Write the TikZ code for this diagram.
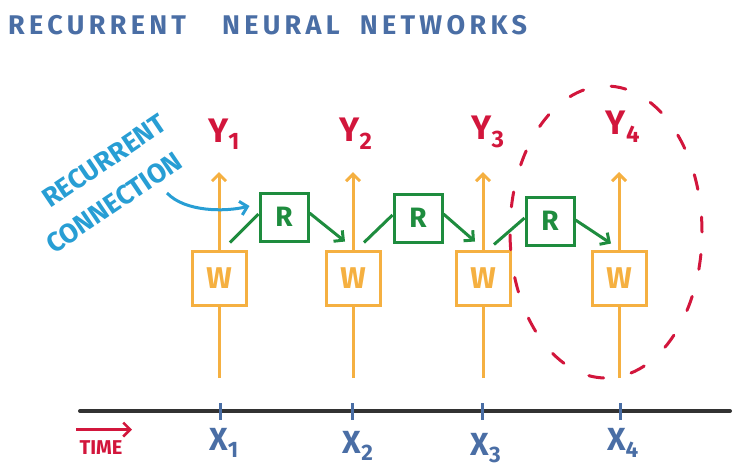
\documentclass[tikz,border=0pt]{standalone}
\usepackage{fontspec}
\setmainfont{Fira Sans}
\usetikzlibrary{arrows.meta,calc}

\definecolor{feedorange}{RGB}{245,176,65}
\definecolor{recgreen}{RGB}{30,140,62}
\definecolor{outred}{RGB}{210,22,60}
\definecolor{inblue}{RGB}{74,110,165}
\definecolor{notecyan}{RGB}{40,158,212}
\definecolor{axisgray}{RGB}{50,50,50}

\tikzset{
  feed/.style = {feedorange, line width = 3pt},
  wbox/.style = {draw = feedorange, line width = 3pt, minimum size = 54pt, inner sep = 0pt,
                 text = feedorange, font = \fontsize{30}{32}\selectfont\bfseries},
  rbox/.style = {draw = recgreen, line width = 3pt, minimum size = 48pt, inner sep = 0pt,
                 text = recgreen, font = \fontsize{28}{30}\selectfont\bfseries},
  link/.style = {recgreen, line width = 3pt},
  barb/.style = {-{Straight Barb[length = 7pt, width = 14pt]}},
  ylab/.style = {text = outred, font = \fontsize{34}{36}\selectfont\bfseries},
  xlab/.style = {text = inblue, font = \fontsize{32}{34}\selectfont\bfseries},
  tickmark/.style = {inblue, line width = 3pt},
  axis/.style = {axisgray, line width = 4pt, line cap = round},
  ring/.style = {outred, line width = 3pt, line cap = round, dash pattern = on 15pt off 28pt}
}

\begin{document}
\begin{tikzpicture}[x = 1pt, y = -1pt]
\useasboundingbox (0, 0) rectangle (745, 472);

% title
\node[anchor = base west, inner sep = 0pt, text = inblue,
      font = \fontsize{27}{29}\selectfont\bfseries\addfontfeature{LetterSpace = 16}] (title) at (8, 34)
  {RECURRENT\hspace{36pt}NEURAL\hspace{20pt}NETWORKS};

% time axis
\coordinate (t0) at (80, 411);
\coordinate (t1) at (730, 411);
\draw[axis] (t0) -- (t1);
\draw[tickmark] (220, 403) -- (220, 420);
\draw[tickmark] (352, 403) -- (352, 420);
\draw[tickmark] (482, 403) -- (482, 420);
\draw[tickmark] (620, 403) -- (620, 420);
\node[xlab] (x1) at (224, 443) {X\textsubscript{1}};
\node[xlab] (x2) at (358, 446) {X\textsubscript{2}};
\node[xlab] (x3) at (486, 448) {X\textsubscript{3}};
\node[xlab] (x4) at (623, 443) {X\textsubscript{4}};
\node[text = outred, font = \fontsize{20}{22}\selectfont\bfseries] (time) at (101, 448) {TIME};
\draw[outred, line width = 2.5pt, barb] ([yshift = 8pt]time.north west) -- ([yshift = 8pt, xshift = 6pt]time.north east);

% weight boxes
\node[wbox] (w1) at (219, 278) {W};
\node[wbox] (w2) at (353, 278) {W};
\node[wbox] (w3) at (483, 278) {W};
\node[wbox] (w4) at (619, 278) {W};
\coordinate (i1) at (219, 378);
\coordinate (i2) at (353, 378);
\coordinate (i3) at (483, 378);
\coordinate (i4) at (619, 378);
\coordinate (o1) at (219, 172);
\coordinate (o2) at (353, 172);
\coordinate (o3) at (483, 172);
\coordinate (o4) at (619, 172);
\draw[feed] (i1) -- (w1.south);
\draw[feed] (i2) -- (w2.south);
\draw[feed] (i3) -- (w3.south);
\draw[feed] (i4) -- (w4.south);
\draw[feed, barb] (w1.north) -- (o1);
\draw[feed, barb] (w2.north) -- (o2);
\draw[feed, barb] (w3.north) -- (o3);
\draw[feed, barb] (w4.north) -- (o4);

% outputs
\node[ylab] (y1) at (224, 134) {Y\textsubscript{1}};
\node[ylab] (y2) at (356, 134) {Y\textsubscript{2}};
\node[ylab] (y3) at (488, 132) {Y\textsubscript{3}};
\node[ylab] (y4) at (623, 127) {Y\textsubscript{4}};

% recurrent boxes
\node[rbox] (r1) at (284, 217) {R};
\node[rbox] (r2) at (418, 218) {R};
\node[rbox] (r3) at (550, 221) {R};
\draw[link] ($(w1.north) + (11, -7)$) -- ($(r1.west) + (0, -3)$);
\draw[link, barb] ($(r1.east) + (0, -4)$) -- ($(w2.north) + (-8, -8)$);
\draw[link] ($(w2.north) + (11, -7)$) -- ($(r2.west) + (0, -3)$);
\draw[link, barb] ($(r2.east) + (0, -4)$) -- ($(w3.north) + (-8, -8)$);
\draw[link] ($(w3.north) + (11, -5)$) -- ($(r3.west) + (0, -3)$);
\draw[link, barb] ($(r3.east) + (0, -1)$) -- ($(w4.north) + (-8, -6)$);

% note
\node[text = notecyan, rotate = 34, align = center, font = \fontsize{27}{40}\selectfont\bfseries] (note) at (103, 186)
  {\hspace{30pt}RECURRENT\\CONNECTION};
\coordinate (hook) at (167, 193);
\draw[notecyan, line width = 3pt, barb] (hook) .. controls (185, 212) and (225, 212) .. ($(r1.west) + (-9, -11)$);

% last time step
\draw[ring] (606, 232) ellipse [x radius = 96pt, y radius = 146pt];
\end{tikzpicture}
\end{document}
